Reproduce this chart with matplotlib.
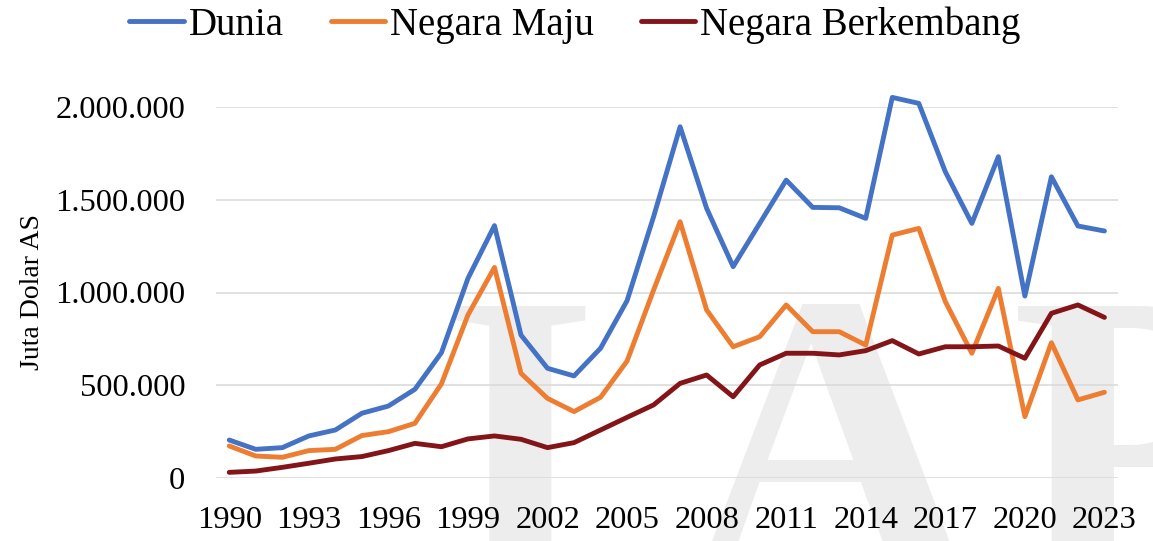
import matplotlib.pyplot as plt
from matplotlib.ticker import FuncFormatter

years = list(range(1990, 2024))
dunia = [206000, 156000, 165000, 228000, 260000, 350000, 389000, 479000, 676000, 1076000,
         1360000, 771000, 592000, 551000, 700000, 956000, 1408000, 1892000, 1453000, 1139000,
         1372000, 1605000, 1458000, 1456000, 1399000, 2050000, 2018000, 1650000, 1372000, 1731000,
         981000, 1623000, 1358000, 1331000]
negara_maju = [174000, 120000, 113000, 149000, 156000, 230000, 251000, 296000, 508000, 879000,
               1135000, 565000, 430000, 359000, 436000, 631000, 1013000, 1381000, 906000, 708000,
               762000, 933000, 789000, 789000, 717000, 1309000, 1345000, 951000, 673000, 1022000,
               332000, 730000, 422000, 463000]
negara_berkembang = [32000, 39000, 59000, 81000, 104000, 117000, 149000, 188000, 170000, 212000,
                     228000, 210000, 165000, 192000, 260000, 328000, 395000, 511000, 556000, 439000,
                     610000, 673000, 673000, 664000, 687000, 741000, 669000, 708000, 708000, 712000,
                     646000, 888000, 933000, 866000]
tick_years = list(range(1990, 2024, 3))

plt.rcParams['font.family'] = ['Liberation Serif', 'DejaVu Serif']

W, H = 1153, 541
fig = plt.figure(figsize=(W / 100, H / 100), dpi=100)

# watermark behind the plot (cut off by the lower edge, as in the original)
wm = dict(fontsize=290, color='#ededed', family='Liberation Serif', fontweight='bold',
          va='baseline', zorder=-1)
fig.text(520 / W, 1 - 570 / H, 'I', ha='center', **wm)
fig.text(830 / W, 1 - 570 / H, 'A', ha='center', **wm)
fig.text(1010 / W, 1 - 570 / H, 'P', ha='left', **wm)

ax = fig.add_axes([216 / W, 1 - 478.3 / H, (1117.7 - 216) / W, (478.3 - 106.7) / H])
ax.patch.set_alpha(0)
ax.set_zorder(1)

lw = 3.5
for vals, col, name in [(dunia, '#4472C4', 'Dunia'),
                        (negara_maju, '#ED7D31', 'Negara Maju'),
                        (negara_berkembang, '#831518', 'Negara Berkembang')]:
    ax.plot(years, vals, color=col, lw=lw, label=name, clip_on=False,
            solid_capstyle='round', solid_joinstyle='round')

ax.set_xlim(1989.5, 2023.5)
ax.set_ylim(0, 2000000)
ax.set_yticks([0, 500000, 1000000, 1500000, 2000000])
ax.yaxis.set_major_formatter(FuncFormatter(lambda v, p: f'{int(v):,}'.replace(',', '.')))
ax.set_xticks(tick_years)
ax.grid(axis='y', color='#d9d9d9', lw=1.1)
ax.set_axisbelow(True)
for s in ax.spines.values():
    s.set_visible(False)
ax.tick_params(axis='both', length=0, labelsize=23.4)
ax.tick_params(axis='y', pad=22)
ax.tick_params(axis='x', pad=20)
ax.set_ylabel('Juta Dolar AS', fontsize=20)
ax.yaxis.set_label_coords(-0.19, 0.5)

fig.legend(loc='center', bbox_to_anchor=(0.4987, 1 - 25 / H), ncol=3, frameon=False,
           fontsize=28, handlelength=1.4, handletextpad=0.13, columnspacing=1.2)

fig.savefig('out.png', dpi=100)
